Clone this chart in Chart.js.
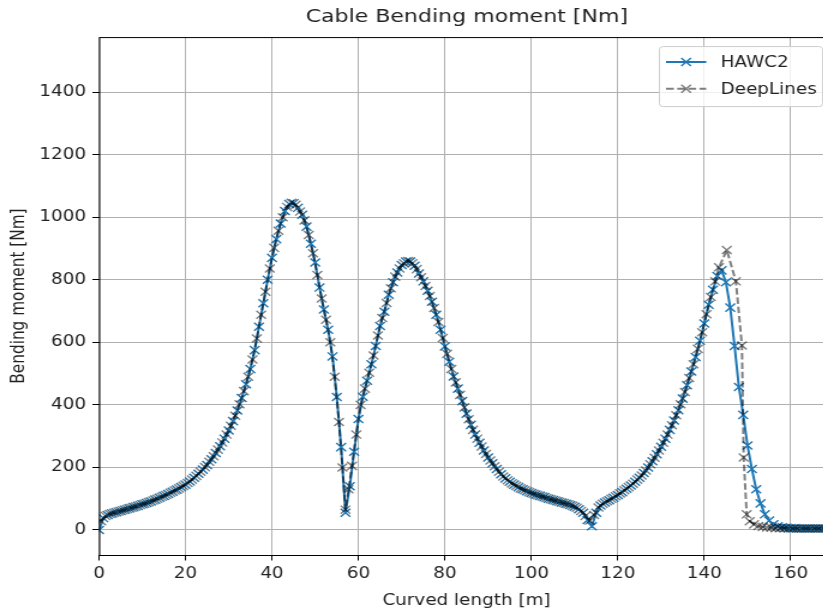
<!DOCTYPE html>
<html>
<head>
<meta charset="utf-8">
<script src="https://cdn.jsdelivr.net/npm/chart.js@4.4.0/dist/chart.umd.min.js"></script>
<style>
  html, body { margin: 0; padding: 0; background: #fff; overflow: hidden; }
  #wrap { width: 823px; height: 615px; overflow: hidden; position: relative; }
  /* the reference figure is stretched sideways, so the canvas is too */
  #chart { position: absolute; left: 0; top: 0; transform: scaleX(1.2); transform-origin: 0 0; }
</style>
</head>
<body>
<div id="wrap"><canvas id="chart" width="778" height="615"></canvas></div>
<script>
// curved length [m] and bending moment [Nm]
const hawc2X = [
  0, 1, 2, 3, 4, 5, 6, 7, 8, 9, 10, 11, 12, 13, 14, 15, 16, 17, 18, 19,
  20, 21, 22, 23, 24, 25, 26, 27, 28, 29, 30, 31, 32, 33, 34, 35, 36, 37, 38, 39,
  40, 41, 42, 43, 44, 45, 46, 47, 48, 49, 50, 51, 52, 53, 54, 55, 56, 57, 58, 59,
  60, 61, 62, 63, 64, 65, 66, 67, 68, 69, 70, 71, 72, 73, 74, 75, 76, 77, 78, 79,
  80, 81, 82, 83, 84, 85, 86, 87, 88, 89, 90, 91, 92, 93, 94, 95, 96, 97, 98, 99,
  100, 101, 102, 103, 104, 105, 106, 107, 108, 109, 110, 111, 112, 113, 114, 115, 116, 117, 118, 119,
  120, 121, 122, 123, 124, 125, 126, 127, 128, 129, 130, 131, 132, 133, 134, 135, 136, 137, 138, 139,
  140, 141, 142, 143, 144, 145, 146, 147, 148, 149, 150, 151, 152, 153, 154, 155, 156, 157, 158, 159,
  160, 161, 162, 163, 164, 165, 166, 167, 168, 169, 170
];
const hawc2Moment = [
  0, 38, 48, 53, 57, 61, 65, 69, 73, 77, 82, 86, 91, 97, 103, 109, 115, 122, 129, 137,
  145, 155, 167, 180, 193, 208, 226, 246, 268, 292, 318, 348, 382, 422, 466, 515, 575, 650, 725, 800,
  870, 930, 980, 1020, 1042, 1045, 1030, 1008, 970, 915, 855, 775, 705, 640, 555, 425, 265, 55, 140, 250,
  355, 426, 477, 530, 588, 652, 698, 752, 792, 823, 847, 858, 858, 845, 820, 795, 765, 730, 688, 640,
  587, 538, 491, 452, 412, 372, 336, 305, 279, 254, 232, 213, 195, 178, 165, 154, 145, 137, 130, 124,
  118, 113, 109, 105, 100, 96, 92, 88, 84, 80, 74, 66, 55, 32, 12, 55, 78, 88, 95, 103,
  112, 121, 132, 142, 154, 167, 182, 200, 220, 242, 266, 292, 320, 350, 383, 420, 463, 507, 553, 605,
  660, 720, 768, 812, 830, 792, 711, 588, 457, 368, 270, 195, 130, 85, 50, 30, 18, 12, 9, 7,
  6, 6, 5, 5, 5, 5, 5, 5, 5, 5, 5
];

const deepLinesX = [
  0.5, 1.5, 2.5, 3.5, 4.5, 5.5, 6.5, 7.5, 8.5, 9.5, 10.5, 11.5, 12.5, 13.5, 14.5, 15.5, 16.5, 17.5, 18.5, 19.5,
  20.5, 21.5, 22.5, 23.5, 24.5, 25.5, 26.5, 27.5, 28.5, 29.5, 30.5, 31.5, 32.5, 33.5, 34.5, 35.5, 36.5, 37.5, 38.5, 39.5,
  40.5, 41.5, 42.5, 43.5, 44.5, 45.5, 46.5, 47.5, 48.5, 49.5, 50.5, 51.5, 52.5, 53.5, 54.5, 55.5, 56.3, 57.0, 57.7,
  58.5, 59.5, 60.5, 61.5, 62.5, 63.5, 64.5, 65.5, 66.5, 67.5, 68.5, 69.5, 70.5, 71.5, 72.5, 73.5, 74.5, 75.5, 76.5, 77.5,
  78.5, 79.5, 80.5, 81.5, 82.5, 83.5, 84.5, 85.5, 86.5, 87.5, 88.5, 89.5, 90.5, 91.5, 92.5, 93.5, 94.5, 95.5, 96.5, 97.5,
  98.5, 99.5, 100.5, 101.5, 102.5, 103.5, 104.5, 105.5, 106.5, 107.5, 108.5, 109.5, 110.5, 111.5, 112.5, 113.5, 114.5, 115.5, 116.5, 117.5,
  118.5, 119.5, 120.5, 121.5, 122.5, 123.5, 124.5, 125.5, 126.5, 127.5, 128.5, 129.5, 130.5, 131.5, 132.5, 133.5, 134.5, 135.5, 136.5, 137.5,
  138.5, 139.5, 140.5, 141.5, 142.5, 143.4, 145.2, 147.3, 148.7, 149.1, 149.8,
  150.5, 151.5, 152.5, 153.5, 154.5, 155.5, 156.5, 157.5, 158.5, 159.5, 160.5, 161.5, 162.5, 163.5, 164.5, 165.5, 166.5, 167.5, 168.5, 169.5
];
const deepLinesMoment = [
  28, 45, 51, 55, 59, 63, 67, 71, 75, 80, 84, 89, 94, 100, 106, 112, 119, 126, 133, 141,
  150, 161, 173, 186, 201, 218, 236, 257, 280, 305, 333, 365, 402, 444, 490, 545, 612, 688, 762, 836,
  902, 957, 1000, 1033, 1046, 1040, 1018, 990, 943, 885, 815, 740, 672, 600, 490, 345, 200, 65, 130,
  205, 305, 400, 452, 503, 558, 622, 678, 726, 773, 810, 836, 853, 860, 853, 834, 808, 780, 748, 710,
  665, 614, 563, 515, 472, 432, 392, 354, 320, 292, 267, 243, 222, 204, 186, 171, 159, 149, 141, 133,
  127, 121, 116, 111, 107, 102, 98, 94, 90, 86, 82, 77, 71, 61, 45, 30, 48, 72, 84, 92,
  100, 108, 117, 127, 137, 148, 161, 174, 190, 210, 231, 254, 279, 305, 335, 367, 402, 441, 486, 530,
  579, 632, 690, 745, 795, 840, 895, 795, 590, 232, 50,
  28, 18, 13, 10, 8, 7, 6, 6, 6, 5, 5, 5, 5, 5, 5, 5, 5, 5, 5, 5
];

const seriesNames = ['HAWC2', 'DeepLines'];

const FONT = "'DejaVu Sans', sans-serif";
const TICK_SIZE = 15.3;

const toPoints = (xs, ys) => xs.map((x, i) => ({ x: x, y: ys[i] }));

// black frame round the axes, like matplotlib spines
const framePlugin = {
    id: 'frame',
    afterDatasetsDraw(chart) {
        const { ctx, chartArea: a } = chart;
        ctx.save();
        ctx.strokeStyle = '#000';
        ctx.lineWidth = 1;
        ctx.strokeRect(a.left + 0.5, a.top + 0.5, a.right - a.left, a.bottom - a.top);
        ctx.restore();
    }
};

// boxed legend in the upper right corner of the axes
const boxLegendPlugin = {
    id: 'boxLegend',
    afterDraw(chart) {
        const { ctx, chartArea: a } = chart;
        const boxW = 136, boxH = 60;
        const left = a.right - 10 - boxW + 0.5;
        const top = a.top + 9.5;
        ctx.save();
        ctx.beginPath();
        ctx.roundRect(left, top, boxW, boxH, 3);
        ctx.fillStyle = 'rgba(255,255,255,0.8)';
        ctx.fill();
        ctx.strokeStyle = '#cccccc';
        ctx.lineWidth = 1;
        ctx.stroke();

        chart.data.datasets.forEach((ds, i) => {
            const y = top + 15.5 + i * 26.6;
            const x0 = left + 5.5, x1 = left + 39, xm = (x0 + x1) / 2;
            ctx.strokeStyle = ds.borderColor;
            ctx.lineWidth = ds.borderWidth;
            ctx.setLineDash(ds.borderDash || []);
            ctx.beginPath();
            ctx.moveTo(x0, y);
            ctx.lineTo(x1, y);
            ctx.stroke();
            ctx.setLineDash([]);
            ctx.lineWidth = ds.pointBorderWidth;
            ctx.strokeStyle = ds.pointBorderColor;
            const h = ds.pointRadius * 0.707;
            ctx.beginPath();
            ctx.moveTo(xm - h, y - h); ctx.lineTo(xm + h, y + h);
            ctx.moveTo(xm - h, y + h); ctx.lineTo(xm + h, y - h);
            ctx.stroke();
            ctx.fillStyle = '#222';
            ctx.font = `${TICK_SIZE}px ${FONT}`;
            ctx.textBaseline = 'middle';
            ctx.textAlign = 'left';
            ctx.fillText(ds.label, left + 51, y + 1);
        });
        ctx.restore();
    }
};

const ctx = document.getElementById('chart').getContext('2d');

var myChart = new Chart(ctx, {
    type: 'line',
    data: {
        datasets: [
            {
                label: seriesNames[0],
                data: toPoints(hawc2X, hawc2Moment),
                borderColor: '#1f77b4',
                backgroundColor: '#1f77b4',
                borderWidth: 2,
                pointStyle: 'crossRot',
                pointRadius: 5.7,
                pointBorderWidth: 1.4,
                pointBorderColor: '#1f77b4',
                pointBackgroundColor: 'rgba(0,0,0,0)',
                tension: 0,
                order: 1,
            },
            {
                label: seriesNames[1],
                data: toPoints(deepLinesX, deepLinesMoment),
                borderColor: 'rgba(0,0,0,0.5)',
                backgroundColor: 'rgba(0,0,0,0.5)',
                borderWidth: 2,
                borderDash: [6.5, 2.8],
                pointStyle: 'crossRot',
                pointRadius: 5.7,
                pointBorderWidth: 1.4,
                pointBorderColor: 'rgba(0,0,0,0.5)',
                pointBackgroundColor: 'rgba(0,0,0,0)',
                tension: 0,
                order: 0,
            }
        ]
    },
    options: {
        responsive: false,
        animation: false,
        events: [],
        layout: { padding: 0 },
        scales: {
            x: {
                type: 'linear',
                min: 0,
                max: 170,
                afterFit: (scale) => { scale.height = 60; },
                ticks: {
                    stepSize: 20,
                    includeBounds: false,
                    padding: 4.8,
                    color: '#222',
                    font: { family: FONT, size: TICK_SIZE },
                    callback: (value) => String(value),
                },
                grid: { color: '#b0b0b0', lineWidth: 1, tickColor: '#000', tickLength: 5.5, tickWidth: 1 },
                border: { display: false },
                title: {
                    display: true,
                    text: 'Curved length [m]',
                    color: '#222',
                    font: { family: FONT, size: TICK_SIZE },
                    padding: { top: 0, bottom: 4.8 },
                },
            },
            y: {
                type: 'linear',
                min: -80,
                max: 1576,
                afterFit: (scale) => { scale.width = 82.5; },
                ticks: {
                    stepSize: 200,
                    includeBounds: false,
                    padding: 5.3,
                    color: '#222',
                    font: { family: FONT, size: TICK_SIZE },
                    callback: (value) => String(value),
                },
                grid: { color: '#b0b0b0', lineWidth: 1, tickColor: '#000', tickLength: 5.5, tickWidth: 1 },
                border: { display: false },
                title: {
                    display: true,
                    text: 'Bending moment [Nm]',
                    color: '#222',
                    font: { family: FONT, size: TICK_SIZE },
                    padding: { top: 6.6, bottom: 0 },
                },
            },
            // empty right-hand axis, only there so the title centres over the plot
            yRight: {
                type: 'linear',
                position: 'right',
                min: -80,
                max: 1576,
                afterFit: (scale) => { scale.width = 83; },
                ticks: { display: false },
                grid: { display: false },
                border: { display: false },
            }
        },
        plugins: {
            legend: { display: false },
            tooltip: { enabled: false },
            title: {
                display: true,
                text: 'Cable Bending moment [Nm]',
                color: '#222',
                font: { family: FONT, size: 18.4, weight: 'normal' },
                padding: { top: 6, bottom: 9 },
            }
        }
    },
    plugins: [framePlugin, boxLegendPlugin]
});
</script>
</body>
</html>
